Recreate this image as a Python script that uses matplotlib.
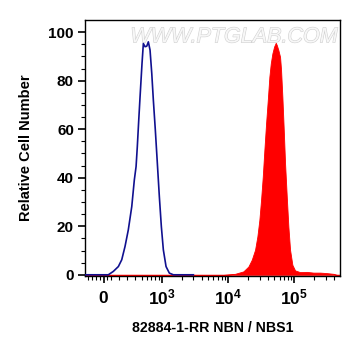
import matplotlib
matplotlib.use("Agg")
import matplotlib.pyplot as plt
import matplotlib.patheffects as pe
from matplotlib.ticker import FixedLocator, FixedFormatter
import numpy as np

plt.rcParams['mathtext.fontset'] = 'custom'
plt.rcParams['mathtext.rm'] = 'Liberation Sans'
plt.rcParams['mathtext.bf'] = 'Liberation Sans:bold'

# Isotype / control histogram (blue line)
blue_x = [-236, 0, 61, 125, 189, 232, 274, 313, 353, 386, 410, 428, 450, 471,
          504, 528, 560, 594, 628, 666, 707, 747, 800, 858, 920, 986, 1057,
          1161, 1302, 1496, 3000]
blue_y = [0, 0, 0, 1.4, 3.4, 6.2, 11.7, 18.5, 28.1, 39.1, 44.6, 52.8, 63.8, 73.4,
          87.1, 95.3, 94.0, 94.2, 96.0, 92.6, 83.0, 72.0, 59.7, 46.0, 32.2, 19.9,
          10.3, 3.4, 0.7, 0, 0]

# Antibody stained histogram (red filled)
red_x = [-236, 0, 8490, 12750, 17010, 20240, 22780, 25540, 27670, 29650, 31460,
         33380, 35280, 37440, 39710, 41970, 44060, 46580, 49410, 52420, 54270,
         57380, 60860, 63010, 65920, 69180, 72380, 76800, 81210, 86120, 93330,
         102460, 121900, 153800, 193500, 244100, 308100, 387300, 436100, 488700]
red_y = [0, 0, 0, 0.4, 1.4, 3.4, 6.2, 10.3, 15.8, 22.6, 30.9,
         40.5, 51.4, 62.4, 72.0, 81.6, 87.1, 91.2, 94.0, 95.6, 94.7,
         92.6, 89.8, 84.4, 73.4, 59.7, 46.0, 32.2, 19.9, 10.3, 4.1,
         1.8, 1.1, 1.2, 0.9, 0.9, 0.7, 0.4, 0, 0]

x_major = [0, 1e3, 1e4, 1e5]
x_labels = [r'$\mathbf{0}$', r'$\mathbf{10^{3}}$', r'$\mathbf{10^{4}}$', r'$\mathbf{10^{5}}$']
x_minor = ([-200, -150, -100, -50, 50] + [100 * i for i in range(1, 10)]
           + [1000 * i for i in range(2, 10)] + [10000 * i for i in range(2, 10)]
           + [100000 * i for i in range(2, 5)])
y_major = [0, 20, 40, 60, 80, 100]

fig = plt.figure(figsize=(3.61, 3.56), dpi=100)
ax = fig.add_axes([0.2355, 0.2247, 0.7065, 0.7191])

ax.set_xscale('symlog', linthresh=300, linscale=0.3195)
ax.fill_between(red_x, red_y, 0, color='#ff0000', linewidth=0.6, edgecolor='#ff0000', zorder=2)
ax.plot(blue_x, blue_y, color='#10108f', linewidth=1.2, zorder=3)

ax.set_xlim(-236, 488700)
ax.set_ylim(-0.5, 105)

ax.xaxis.set_major_locator(FixedLocator(x_major))
ax.xaxis.set_major_formatter(FixedFormatter(x_labels))
ax.xaxis.set_minor_locator(FixedLocator(x_minor))
ax.yaxis.set_major_locator(FixedLocator(y_major))
ax.yaxis.set_minor_locator(FixedLocator([v for v in range(5, 105, 5) if v % 20]))

ax.tick_params(axis='x', which='major', length=5, width=1.2, pad=4, labelsize=12.5)
ax.tick_params(axis='x', which='minor', length=3, width=0.8)
ax.tick_params(axis='y', which='major', length=5, width=1.2, pad=3, labelsize=11)
ax.tick_params(axis='y', which='minor', length=3, width=0.8)
for lab in ax.get_yticklabels():
    lab.set_fontweight('bold')
    lab.set_family('Liberation Sans')

for s in ax.spines.values():
    s.set_linewidth(1.0)

ax.set_ylabel('Relative Cell Number', fontsize=10.5, fontweight='bold',
              family='Liberation Sans', labelpad=11)
ax.set_xlabel('82884-1-RR NBN / NBS1', fontsize=10.2, fontweight='bold',
              family='Liberation Sans', labelpad=9)

ax.text(0.99, 0.975, 'WWW.PTGLAB.COM', transform=ax.transAxes, ha='right', va='top',
        fontsize=15.5, color='#f7f7f7', family='Liberation Sans', style='italic', zorder=1,
        path_effects=[pe.withStroke(linewidth=0.8, foreground='#d0d0d0')])

fig.savefig('out.png', dpi=100)
